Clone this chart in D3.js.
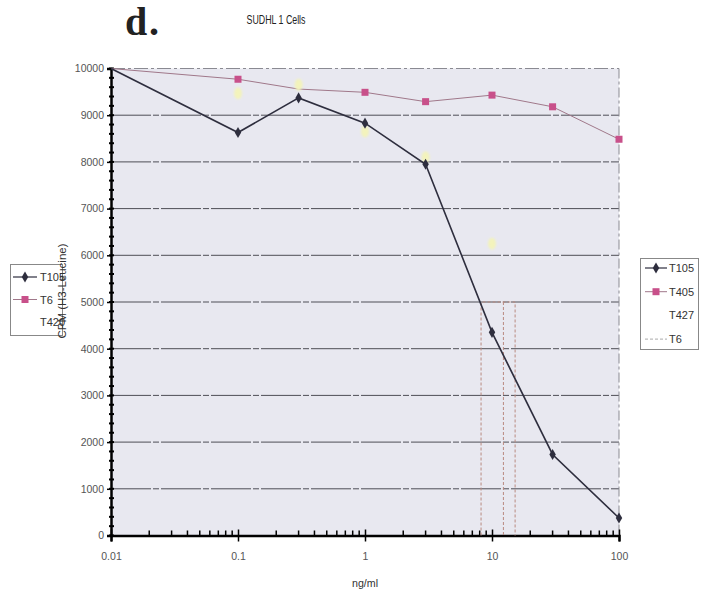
<!DOCTYPE html>
<html>
<head>
<meta charset="utf-8">
<script src="https://cdn.jsdelivr.net/npm/d3@7/dist/d3.min.js"></script>
<style>
  body { margin: 0; background: #fff; }
  svg { display: block; }
  .lbl { font-family: "Liberation Sans", Arial, sans-serif; }
</style>
</head>
<body>
<svg id="chart" width="710" height="592"></svg>
<script>
// Concentrations (ng/ml) and CPM readings for each antibody
const concT105 = [0.01, 0.1, 0.3, 1, 3, 10, 30, 100];
const cpmT105  = [10000, 8630, 9370, 8830, 7950, 4350, 1735, 375];
const concT405 = [0.01, 0.1, 0.3, 1, 3, 10, 30, 100];
const cpmT405  = [10000, 9770, 9560, 9490, 9290, 9430, 9180, 8485];
const concT427 = [0.1, 0.3, 1, 3, 10];
const cpmT427  = [9470, 9650, 8650, 8100, 6250];
const concT6   = [8.2, 8.2, 15.2, 15.2];
const cpmT6    = [0, 5000, 5000, 0];
const concT6b  = [12.3, 12.3];
const cpmT6b   = [5000, 0];

const xTickValues = [0.01, 0.1, 1, 10, 100];
const xTickLabels = ["0.01", "0.1", "1", "10", "100"];
const yTickValues = [0, 1000, 2000, 3000, 4000, 5000, 6000, 7000, 8000, 9000, 10000];

const leftLegend  = ["T105", "T6", "T420"];
const rightLegend = ["T105", "T405", "T427", "T6"];

const svg = d3.select("#chart");
const x = d3.scaleLog().domain([0.01, 100]).range([111, 619]);
const y = d3.scaleLinear().domain([0, 10000]).range([535.5, 68.5]);

const ink = "#2e2e3e", pinkLine = "#a0788a", pinkMark = "#c8508a", yellow = "#f3f3bc", brown = "#b98a80";

// soft edge for the pale markers
svg.append("defs").append("filter").attr("id", "soft")
  .append("feGaussianBlur").attr("stdDeviation", 1.2);

// plot background
svg.append("rect")
  .attr("x", x(0.01)).attr("y", y(10000))
  .attr("width", x(100) - x(0.01)).attr("height", y(0) - y(10000))
  .attr("fill", "#e8e8f0");

// horizontal gridlines
svg.append("g").selectAll("line").data(yTickValues.filter(v => v > 0 && v < 10000)).join("line")
  .attr("x1", x(0.01)).attr("x2", x(100))
  .attr("y1", d => y(d)).attr("y2", d => y(d))
  .attr("stroke", "#4e4e56").attr("stroke-width", 1)
  .attr("stroke-dasharray", "40,2,6,2");

// top and right border of the plot area
svg.append("line")
  .attr("x1", x(0.01)).attr("x2", x(100)).attr("y1", y(10000)).attr("y2", y(10000))
  .attr("stroke", "#8a8a92").attr("stroke-dasharray", "14,3,3,3");
svg.append("line")
  .attr("x1", x(100)).attr("x2", x(100)).attr("y1", y(10000)).attr("y2", y(0))
  .attr("stroke", "#8a8a92").attr("stroke-dasharray", "10,3,3,3");

// Y axis: majors every 1000 with labels, minors every 200
const yAxis = svg.append("g").attr("transform", `translate(${x(0.01)},0)`)
  .call(d3.axisLeft(y).tickValues(yTickValues).tickSize(4).tickFormat(d3.format("d")));
yAxis.select(".domain").attr("stroke", "#000").attr("stroke-width", 2.5);
yAxis.selectAll(".tick line").attr("stroke", "#000").attr("stroke-width", 1.5);
yAxis.selectAll(".tick text").attr("class", "lbl").attr("font-size", 10.5).attr("fill", "#555").attr("x", -7);
svg.append("g").selectAll("line").data(d3.range(0, 10001, 200)).join("line")
  .attr("x1", x(0.01) - 2).attr("x2", x(0.01) + 3)
  .attr("y1", d => y(d)).attr("y2", d => y(d))
  .attr("stroke", "#000").attr("stroke-width", 2);

// X axis (log): minor ticks upward, majors crossing the axis
const minorX = [];
for (let dec = 0.01; dec < 100; dec *= 10) for (let k = 2; k <= 9; k++) minorX.push(dec * k);
const xAxis = svg.append("g").attr("transform", `translate(0,${y(0)})`)
  .call(d3.axisBottom(x).tickValues(xTickValues).tickSize(6)
    .tickFormat((d, i) => xTickLabels[i]));
xAxis.select(".domain").attr("stroke", "#000").attr("stroke-width", 2.5);
xAxis.selectAll(".tick line").attr("stroke", "#000").attr("stroke-width", 1.5).attr("y1", -6);
xAxis.selectAll(".tick text").attr("class", "lbl").attr("font-size", 10.5).attr("fill", "#555").attr("dy", "1.5em");
svg.append("g").selectAll("line").data(minorX).join("line")
  .attr("x1", d => x(d)).attr("x2", d => x(d))
  .attr("y1", y(0)).attr("y2", y(0) - 5)
  .attr("stroke", "#000").attr("stroke-width", 1.5);

const line = d3.line().x(d => x(d[0])).y(d => y(d[1]));

// T6: dotted reference lines
[[concT6, cpmT6], [concT6b, cpmT6b]].forEach(([c, v]) => {
  svg.append("path").datum(d3.zip(c, v)).attr("d", line)
    .attr("fill", "none").attr("stroke", brown).attr("stroke-width", 1).attr("stroke-dasharray", "3,2");
});

// T405
svg.append("path").datum(d3.zip(concT405, cpmT405)).attr("d", line)
  .attr("fill", "none").attr("stroke", pinkLine).attr("stroke-width", 1);
svg.append("g").selectAll("rect")
  .data(d3.zip(concT405, cpmT405).filter(d => d[0] !== 0.01 && d[0] !== 0.3)).join("rect")
  .attr("x", d => x(d[0]) - 3.5).attr("y", d => y(d[1]) - 3.5)
  .attr("width", 7).attr("height", 7).attr("fill", pinkMark);

// T427: pale markers
svg.append("g").attr("filter", "url(#soft)").selectAll("ellipse").data(d3.zip(concT427, cpmT427)).join("ellipse")
  .attr("cx", d => x(d[0])).attr("cy", d => y(d[1]))
  .attr("rx", 4).attr("ry", 6).attr("fill", yellow);

// T105
svg.append("path").datum(d3.zip(concT105, cpmT105)).attr("d", line)
  .attr("fill", "none").attr("stroke", ink).attr("stroke-width", 1.6);
const diamond = d3.symbol().type(d3.symbolDiamond).size(36);
svg.append("g").selectAll("path").data(d3.zip(concT105, cpmT105).slice(1)).join("path")
  .attr("transform", d => `translate(${x(d[0])},${y(d[1])})`)
  .attr("d", diamond).attr("fill", ink);

// title and panel letter
svg.append("text").attr("class", "lbl").attr("x", 276).attr("y", 24)
  .attr("text-anchor", "middle").attr("font-size", 13.5).attr("fill", "#222")
  .attr("textLength", 59).attr("lengthAdjust", "spacingAndGlyphs").text("SUDHL 1 Cells");
svg.append("text").attr("x", 125).attr("y", 35)
  .attr("font-family", "'Liberation Serif', 'Times New Roman', serif").attr("font-weight", "bold")
  .attr("font-size", 40).attr("fill", "#222").attr("textLength", 34).text("d.");

// x axis title
svg.append("text").attr("class", "lbl").attr("x", 365).attr("y", 587)
  .attr("text-anchor", "middle").attr("font-size", 11).attr("fill", "#333")
  .attr("textLength", 26).attr("lengthAdjust", "spacingAndGlyphs").text("ng/ml");

// legends
function legendEntry(g, side, name, ly, x0, x1, tx) {
  const mid = (x0 + x1) / 2;
  if (name === "T105") {
    g.append("line").attr("x1", x0).attr("x2", x1).attr("y1", ly).attr("y2", ly).attr("stroke", ink).attr("stroke-width", 1.2);
    g.append("path").attr("transform", `translate(${mid},${ly})`).attr("d", diamond).attr("fill", ink);
  } else if (name === "T405" || (name === "T6" && side === "left")) {
    g.append("line").attr("x1", x0).attr("x2", x1).attr("y1", ly).attr("y2", ly).attr("stroke", pinkLine).attr("stroke-width", 1);
    g.append("rect").attr("x", mid - 3.5).attr("y", ly - 3.5).attr("width", 7).attr("height", 7).attr("fill", pinkMark);
  } else if (name === "T6") {
    g.append("line").attr("x1", x0).attr("x2", x1).attr("y1", ly).attr("y2", ly).attr("stroke", "#aaa").attr("stroke-dasharray", "3,2");
  }
  g.append("text").attr("class", "lbl").attr("x", tx).attr("y", ly + 4)
    .attr("font-size", 11).attr("fill", "#333").text(name);
}

const gl = svg.append("g");
gl.append("rect").attr("x", 10.5).attr("y", 264.5).attr("width", 52).attr("height", 71)
  .attr("fill", "#fff").attr("stroke", "#888");
leftLegend.forEach((name, i) => legendEntry(gl, "left", name, 277 + i * 22.5, 13, 37, 40));

const gr = svg.append("g");
gr.append("rect").attr("x", 640.5).attr("y", 258.5).attr("width", 58).attr("height", 91)
  .attr("fill", "#fff").attr("stroke", "#888");
rightLegend.forEach((name, i) => legendEntry(gr, "right", name, 268 + i * 23.7, 645, 667, 669));

// y axis title, drawn over the left legend
svg.append("text").attr("class", "lbl")
  .attr("transform", "translate(66,291) rotate(-90)")
  .attr("text-anchor", "middle").attr("font-size", 11).attr("fill", "#333")
  .attr("textLength", 95).attr("lengthAdjust", "spacingAndGlyphs").text("CPM (H3-Leucine)");
</script>
</body>
</html>
